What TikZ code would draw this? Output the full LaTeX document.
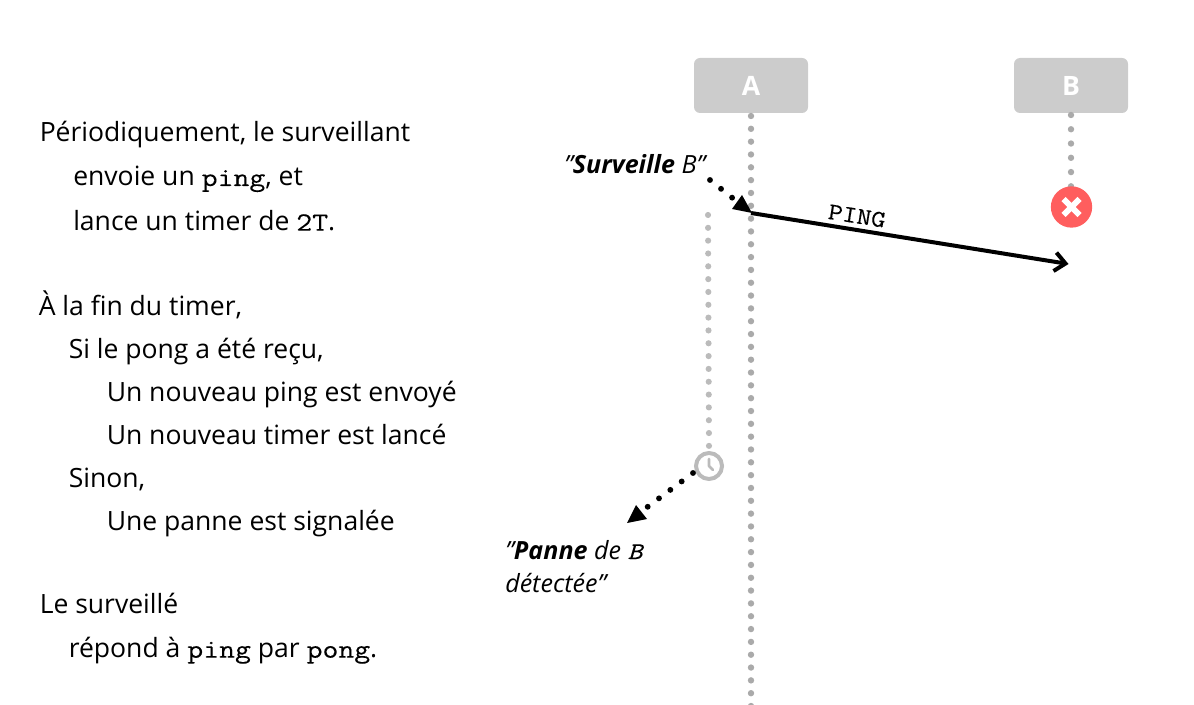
\documentclass[tikz,border=0pt]{standalone}
\usepackage{fontspec}
\usetikzlibrary{arrows.meta}
\setmainfont{Open Sans}
\setmonofont{Latin Modern Mono}[FakeStretch=1.17,FakeBold=0.25]
\newcommand{\code}[1]{{\ttfamily\fontsize{19.8}{20}\selectfont #1}}
\definecolor{boxgrey}{HTML}{CCCCCC}
\definecolor{linegrey}{HTML}{AAAAAA}
\definecolor{timergrey}{HTML}{BBBBBB}
\definecolor{crossred}{HTML}{FF5E5E}
\tikzset{
  x=0.75pt,y=-0.75pt,
  txt/.style={inner sep=0pt,anchor=base west,font=\fontsize{19.9}{20}\selectfont},
  note/.style={inner sep=0pt,anchor=base west,font=\fontsize{18.8}{20}\selectfont\itshape},
  actor/.style={fill=boxgrey,rounded corners=4.5pt,minimum width=85.5pt,minimum height=41.25pt,inner sep=0pt,text=white,font=\fontsize{20}{20}\selectfont\bfseries},
  life/.style={linegrey,line width=4.8pt,line cap=round,dash pattern=on 0pt off 9.62pt},
  lifeb/.style={linegrey,line width=4.8pt,line cap=round,dash pattern=on 0pt off 10.7pt},
  timerline/.style={timergrey,line width=4.6pt,line cap=round,dash pattern=on 0pt off 9.62pt},
  event/.style={black,line width=4.4pt,line cap=round,dash pattern=on 0pt off 10.6pt},
  head/.style={black,fill=black},
  msg/.style={black,line width=3pt,-{Straight Barb[length=8pt,width=14pt,line width=3pt]}},
  clock/.style={circle,draw=timergrey,line width=3pt,fill=white,minimum size=19.5pt,inner sep=0pt},
  fail/.style={circle,fill=crossred,minimum size=31pt,inner sep=0pt},
}
\begin{document}
\begin{tikzpicture}
\useasboundingbox (0,0) rectangle (1194,705);
% left text
\node[txt] (t1) at (39.5,141.7) {Périodiquement, le surveillant};
\node[txt] (t2) at (73,186) {envoie un \code{ping}, et};
\node[txt] (t3) at (73,230.7) {lance un timer de \code{2T}.};
\node[txt] (t4) at (38.5,315.7) {À la fin du timer,};
\node[txt] (t5) at (68.5,358.7) {Si le pong a été reçu,};
\node[txt] (t6) at (106.5,401.3) {Un nouveau ping est envoyé};
\node[txt] (t7) at (106.5,444.3) {Un nouveau timer est lancé};
\node[txt] (t8) at (68.5,487.3) {Sinon,};
\node[txt] (t9) at (106.5,530.7) {Une panne est signalée};
\node[txt] (t10) at (39.5,613.3) {Le surveillé};
\node[txt] (t11) at (68.5,657.7) {répond à \code{ping} par \code{pong}.};
% actors
\node[actor] (A) at (751,85.5) {A};
\node[actor] (B) at (1071,85.5) {B};
% coordinates
\coordinate (aTop) at (751,116);
\coordinate (aEnd) at (751,708);
\coordinate (bTop) at (1071,115);
\coordinate (bEnd) at (1071,190);
\coordinate (pingStart) at (751,213);
\coordinate (pingEnd) at (1068.5,264);
\coordinate (tTop) at (708,215);
\coordinate (survStart) at (710,180);
\coordinate (survEnd) at (735,200);
\coordinate (panStart) at (693,473);
\coordinate (panEnd) at (642,511);
% lifelines
\draw[life] (aTop) -- (aEnd);
\draw[lifeb] (bTop) -- (bEnd);
\node[fail] (X) at (1071.5,207) {};
\draw[white,line width=4.4pt] ([shift={(-8,-8)}]X.center) -- ([shift={(8,8)}]X.center);
\draw[white,line width=4.4pt] ([shift={(-8,8)}]X.center) -- ([shift={(8,-8)}]X.center);
% timer
\node[clock] (C) at (709,466) {};
\draw[timerline] (tTop) -- (C.north);
\draw[timergrey,line width=2pt,line cap=round,line join=round] ([shift={(0,-7)}]C.center) -- (C.center) -- ([shift={(4,4)}]C.center);
% message
\draw[msg] (pingStart) -- (pingEnd);
\node[inner sep=0pt,rotate=-9,font=\ttfamily\fontsize{18}{16}\selectfont] (ping) at (857,216) {PING};
% events
\draw[event] (survStart) -- (survEnd);
\fill[head] (752,213) -- (742,195) -- (732,209) -- cycle;
\draw[event] (panStart) -- (panEnd);
\fill[head] (627,523) -- (636,505) -- (647,519) -- cycle;
% notes
\node[note] (n1) at (564,174) {"\textbf{Surveille} B"};
\node[note] (n2) at (505,559) {"\textbf{Panne} de {\ttfamily\fontsize{18}{20}\selectfont B}};
\node[note] (n3) at (505,592.5) {détectée"};
\end{tikzpicture}
\end{document}
